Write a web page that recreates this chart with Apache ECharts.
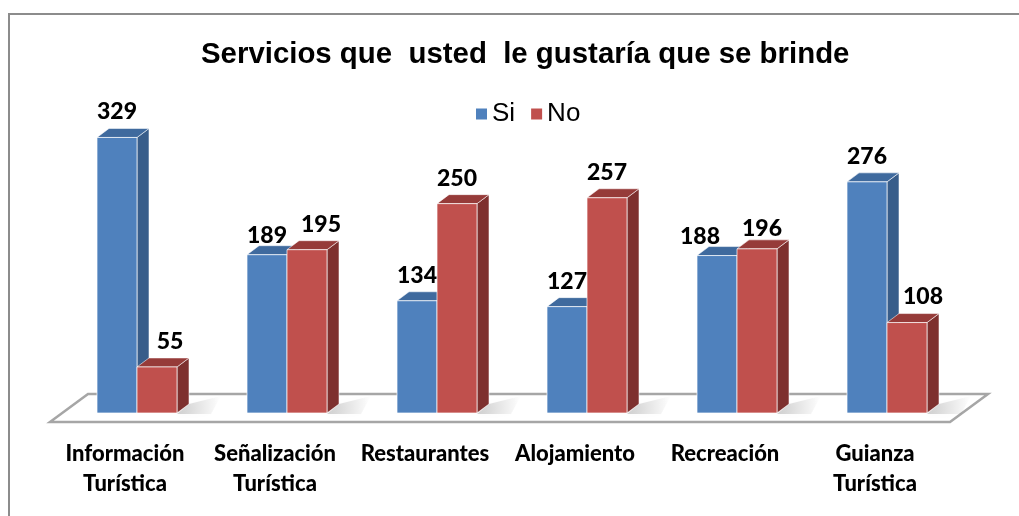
<!DOCTYPE html>
<html>
<head>
<meta charset="utf-8">
<script src="https://cdn.jsdelivr.net/npm/echarts@6/dist/echarts.min.js"></script>
<style>
  html, body { margin: 0; padding: 0; background: #ffffff; }
  #chart { width: 1019px; height: 516px; }
</style>
</head>
<body>
<div id="chart"></div>
<script>
// Survey: services respondents would like to be offered
const categories = ['Información\nTurística', 'Señalización\nTurística', 'Restaurantes', 'Alojamiento', 'Recreación', 'Guianza\nTurística'];
const siValues = [329, 189, 134, 127, 188, 276];
const noValues = [55, 195, 250, 257, 196, 108];
const seriesNames = ['Si', 'No'];

// Nudges [dx, dy] that keep value labels clear of neighbouring bars
const siLabelNudge = [[0, 0], [0, 6], [0, 0], [0, 0], [-17, 7], [0, 0]];
const noLabelNudge = [[13, 0], [14, 0], [0, 0], [0, 0], [5, 5], [16, 0]];

// 3D look: depth offset of the side/top faces
const DEPTH_X = 12;
const DEPTH_Y = -9;
const BAR_RATIO = 40 / 150;

const palette = {
  Si: { front: '#4F81BD', side: '#385D8A', top: '#3F6A9E' },
  No: { front: '#C0504D', side: '#7E302E', top: '#963B39' }
};

function makeBarRenderer(side, colors, nudges) {
  return function (params, api) {
    const idx = api.value(0);
    const val = api.value(1);
    const top = api.coord([idx, val]);
    const base = api.coord([idx, 0]);
    const band = api.size([1, 0])[0];
    const w = band * BAR_RATIO;
    const x0 = side < 0 ? top[0] - w : top[0];
    const x1 = x0 + w;
    const yt = top[1];
    const yb = base[1];
    const nudge = nudges[params.dataIndex] || [0, 0];
    const children = [];
    // soft shadow cast on the floor
    if (side > 0) {
      children.push({
        type: 'polygon',
        shape: { points: [[x1, yb + 1], [x1 + DEPTH_X, yb + DEPTH_Y], [x1 + 44, yb + DEPTH_Y - 8], [x1 + 34, yb + 1]] },
        style: {
          fill: new echarts.graphic.LinearGradient(0, 0, 1, 0, [
            { offset: 0, color: 'rgba(0,0,0,0.18)' },
            { offset: 1, color: 'rgba(0,0,0,0)' }
          ]),
          shadowBlur: 6,
          shadowColor: 'rgba(0,0,0,0.15)'
        },
        z2: 0
      });
    }
    children.push({
      type: 'polygon',
      shape: { points: [[x1, yt], [x1 + DEPTH_X, yt + DEPTH_Y], [x1 + DEPTH_X, yb + DEPTH_Y], [x1, yb]] },
      style: { fill: colors.side, stroke: 'rgba(255,255,255,0.55)', lineWidth: 1 },
      z2: 1
    });
    children.push({
      type: 'polygon',
      shape: { points: [[x0, yt], [x0 + DEPTH_X, yt + DEPTH_Y], [x1 + DEPTH_X, yt + DEPTH_Y], [x1, yt]] },
      style: { fill: colors.top, stroke: 'rgba(255,255,255,0.55)', lineWidth: 1 },
      z2: 1
    });
    children.push({
      type: 'rect',
      shape: { x: x0, y: yt, width: w, height: yb - yt },
      style: { fill: colors.front, stroke: 'rgba(255,255,255,0.7)', lineWidth: 1 },
      z2: 2
    });
    children.push({
      type: 'text',
      x: (x0 + x1) / 2 + nudge[0],
      y: yt - 14 + nudge[1],
      style: {
        text: String(val),
        fill: '#000000',
        font: '900 23px Lato',
        align: 'center',
        verticalAlign: 'bottom'
      },
      z2: 100
    });
    return { type: 'group', children: children };
  };
}

function renderFloor(params, api) {
  const cs = params.coordSys;
  const left = cs.x, right = cs.x + cs.width, bottom = cs.y + cs.height;
  const front = bottom + 9, back = bottom - 19;
  return {
    type: 'polygon',
    shape: { points: [[left - 12, front], [left + 26, back], [right + 26, back], [right - 12, front]] },
    style: { fill: '#ffffff', stroke: '#a6a6a6', lineWidth: 2.5 }
  };
}

const chart = echarts.init(document.getElementById('chart'), null, { renderer: 'canvas' });
chart.setOption({
  animation: false,
  backgroundColor: '#ffffff',
  title: {
    text: 'Servicios que  usted  le gustaría que se brinde',
    left: 196,
    top: 35,
    textStyle: { fontFamily: 'Liberation Sans', fontWeight: 'bold', fontSize: 29.4, color: '#000000' }
  },
  legend: {
    data: seriesNames,
    top: 96,
    left: 471,
    itemWidth: 11,
    itemHeight: 11,
    itemGap: 16,
    itemTextGap: 8,
    icon: 'rect',
    textStyle: { fontFamily: 'Liberation Sans', fontSize: 26, color: '#000000' }
  },
  grid: { left: 62, right: 57, top: 78, bottom: 103 },
  xAxis: {
    type: 'category',
    data: categories,
    axisLine: { show: false },
    axisTick: { show: false },
    axisLabel: {
      interval: 0,
      margin: 26,
      fontFamily: 'Lato',
      fontWeight: 900,
      fontSize: 22,
      lineHeight: 30,
      padding: [0, 24, 0, 0],
      color: '#000000'
    }
  },
  yAxis: {
    type: 'value',
    min: 0,
    max: 400,
    show: false,
    splitLine: { show: false }
  },
  graphic: [{
    type: 'rect',
    shape: { x: 9, y: 14, width: 1030, height: 520 },
    style: { fill: 'none', stroke: '#8c8c8c', lineWidth: 2 },
    silent: true,
    z: -1
  }],
  series: [
    {
      type: 'custom',
      name: 'floor',
      renderItem: renderFloor,
      data: [[0, 0]],
      z: 1,
      silent: true
    },
    {
      type: 'custom',
      name: 'Si',
      color: palette.Si.front,
      renderItem: makeBarRenderer(-1, palette.Si, siLabelNudge),
      data: siValues.map((v, i) => [i, v]),
      encode: { x: 0, y: 1 },
      z: 2
    },
    {
      type: 'custom',
      name: 'No',
      color: palette.No.front,
      renderItem: makeBarRenderer(1, palette.No, noLabelNudge),
      data: noValues.map((v, i) => [i, v]),
      encode: { x: 0, y: 1 },
      z: 2
    }
  ]
});
</script>
</body>
</html>
